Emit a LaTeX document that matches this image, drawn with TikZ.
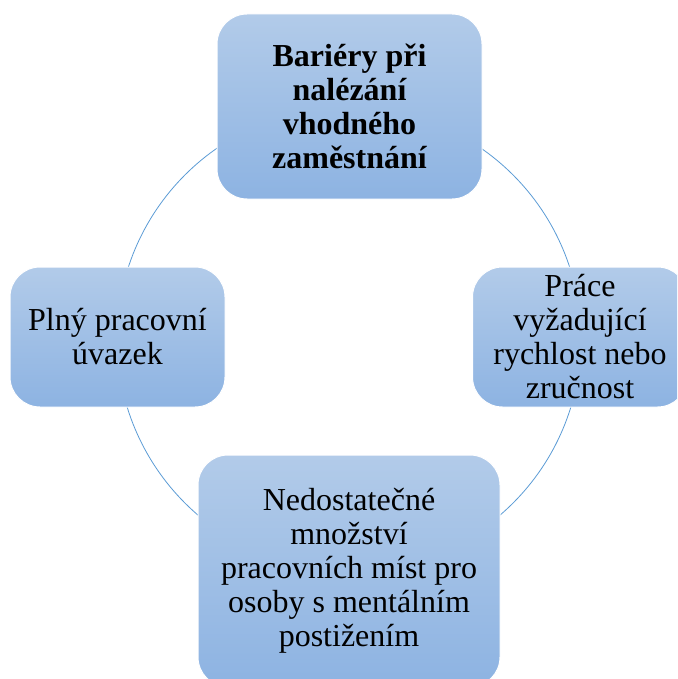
\documentclass[tikz,border=0pt]{standalone}
\usepackage{fontspec}
\setmainfont{Liberation Serif}
\definecolor{ringBlue}{HTML}{5B9BD5}
\definecolor{boxTop}{HTML}{B2CBE9}
\definecolor{boxBottom}{HTML}{8DB3E2}

\begin{document}
\begin{tikzpicture}[x=1pt,y=-1pt,
  barBox/.style={rounded corners=30pt, top color=boxTop, bottom color=boxBottom, draw=white, line width=1pt, align=center, inner sep=0pt, font=\fontsize{32}{34}\selectfont},
  ring/.style={draw=ringBlue, line width=0.8pt}]
\clip (0,0) rectangle (677,679);
\coordinate (ctr) at (349,339);
\draw[ring] (ctr) circle [radius=232pt];
\node[barBox, minimum width=265pt, minimum height=185pt, font=\bfseries\fontsize{32}{34}\selectfont] (bariery) at (349.5,106.5) {Bariéry při\\nalézání\\vhodného\\zaměstnání};
\node[barBox, minimum width=215pt, minimum height=140pt] (rychlost) at (580,337) {Práce\\vyžadující\\rychlost nebo\\zručnost};
\node[barBox, minimum width=302pt, minimum height=232pt] (mista) at (349,571) {Nedostatečné\\množství\\pracovních míst pro\\osoby s mentálním\\postižením};
\node[barBox, minimum width=215pt, minimum height=140pt] (uvazek) at (117.5,337) {Plný pracovní\\úvazek};
\end{tikzpicture}
\end{document}
